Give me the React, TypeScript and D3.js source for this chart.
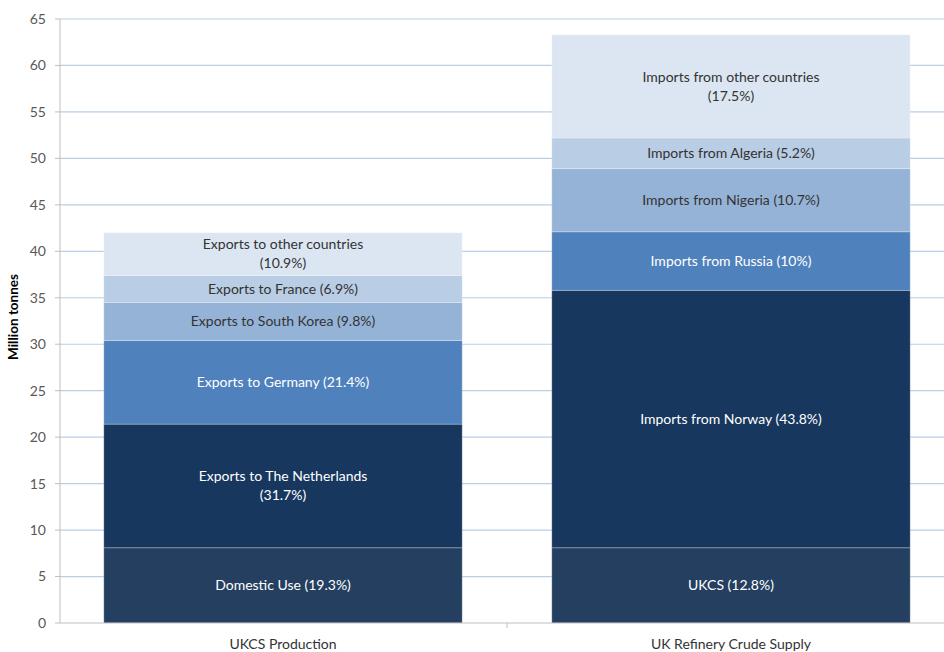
import React from "react";
import * as d3 from "d3";

// chart data
const categories = ["UKCS Production", "UK Refinery Crude Supply"];

const productionLabels = [
  "Domestic Use (19.3%)",
  "Exports to The Netherlands\n(31.7%)",
  "Exports to Germany (21.4%)",
  "Exports to South Korea (9.8%)",
  "Exports to France (6.9%)",
  "Exports to other countries\n(10.9%)",
];
const productionValues = [8.1, 13.3, 9.0, 4.1, 2.9, 4.6];

const supplyLabels = [
  "UKCS (12.8%)",
  "Imports from Norway (43.8%)",
  "Imports from Russia (10%)",
  "Imports from Nigeria (10.7%)",
  "Imports from Algeria (5.2%)",
  "Imports from other countries\n(17.5%)",
];
const supplyValues = [8.1, 27.7, 6.3, 6.8, 3.3, 11.1];

const yTicks = [0, 5, 10, 15, 20, 25, 30, 35, 40, 45, 50, 55, 60, 65];

const colors = ["#243F60", "#17375E", "#4F81BD", "#95B3D7", "#B9CDE5", "#DCE6F2"];
const textColors = ["#ffffff", "#ffffff", "#ffffff", "#333333", "#333333", "#333333"];

const W = 944;
const H = 652;
const FONT = "Lato, 'Open Sans', sans-serif";

export default function App() {
  const x = d3.scaleBand<string>()
    .domain(categories)
    .range([59, 955])
    .paddingInner(0.2)
    .paddingOuter(0.1);

  const y = d3.scaleLinear().domain([0, 65]).range([623, 19]);

  const stacks = [
    { cat: categories[0], values: productionValues, labels: productionLabels },
    { cat: categories[1], values: supplyValues, labels: supplyLabels },
  ];

  return (
    <div style={{ position: "fixed", left: 0, top: 0 }}>
      <svg width={W} height={H} style={{ display: "block", background: "#fff" }} fontFamily={FONT}>
        {/* gridlines */}
        {yTicks.filter(t => t > 0).map(t => (
          <line key={"g" + t} x1={60} x2={W} y1={y(t)} y2={y(t)} stroke="#B9CDE5" strokeWidth={1.2} />
        ))}

        {/* stacked bars */}
        {stacks.map(s => {
          let base = 0;
          return (
            <g key={s.cat}>
              {s.values.map((v, i) => {
                const y0 = y(base);
                const y1 = y(base + v);
                base += v;
                const lines = s.labels[i].split("\n");
                const cy = (y0 + y1) / 2;
                const lh = 19;
                return (
                  <g key={i}>
                    <rect
                      x={x(s.cat)}
                      y={y1}
                      width={x.bandwidth()}
                      height={y0 - y1}
                      fill={colors[i]}
                      stroke="#ffffff"
                      strokeOpacity={0.25}
                      strokeWidth={1}
                    />
                    <text
                      x={(x(s.cat) as number) + x.bandwidth() / 2}
                      textAnchor="middle"
                      fontSize={14}
                      fill={textColors[i]}
                    >
                      {lines.map((ln, j) => (
                        <tspan
                          key={j}
                          x={(x(s.cat) as number) + x.bandwidth() / 2}
                          y={cy + (j - (lines.length - 1) / 2) * lh}
                          dy="0.35em"
                        >
                          {ln}
                        </tspan>
                      ))}
                    </text>
                  </g>
                );
              })}
            </g>
          );
        })}

        {/* y axis */}
        <line x1={60} x2={60} y1={y(65)} y2={y(0)} stroke="#BFBFBF" strokeWidth={1} />
        {yTicks.map(t => (
          <g key={"t" + t}>
            <line x1={55} x2={60} y1={y(t)} y2={y(t)} stroke="#BFBFBF" />
            <text x={46} y={y(t)} dy="0.35em" textAnchor="end" fontSize={14} fill="#595959">
              {t}
            </text>
          </g>
        ))}

        {/* x axis */}
        <line x1={60} x2={W} y1={y(0)} y2={y(0)} stroke="#BFBFBF" strokeWidth={1} />
        <line
          x1={(x(categories[0]) as number) + x.bandwidth() / 2 + x.step() / 2}
          x2={(x(categories[0]) as number) + x.bandwidth() / 2 + x.step() / 2}
          y1={y(0)}
          y2={y(0) + 5}
          stroke="#BFBFBF"
        />
        {categories.map(c => (
          <text
            key={c}
            x={(x(c) as number) + x.bandwidth() / 2}
            y={644}
            dy="0.35em"
            textAnchor="middle"
            fontSize={14}
            fill="#333333"
          >
            {c}
          </text>
        ))}

        {/* y axis title */}
        <text
          transform={`translate(18, ${y(32.5) - 4}) rotate(-90)`}
          textAnchor="middle"
          fontSize={13.5}
          fontWeight="bold"
          fill="#000"
        >
          Million tonnes
        </text>
      </svg>
    </div>
  );
}
